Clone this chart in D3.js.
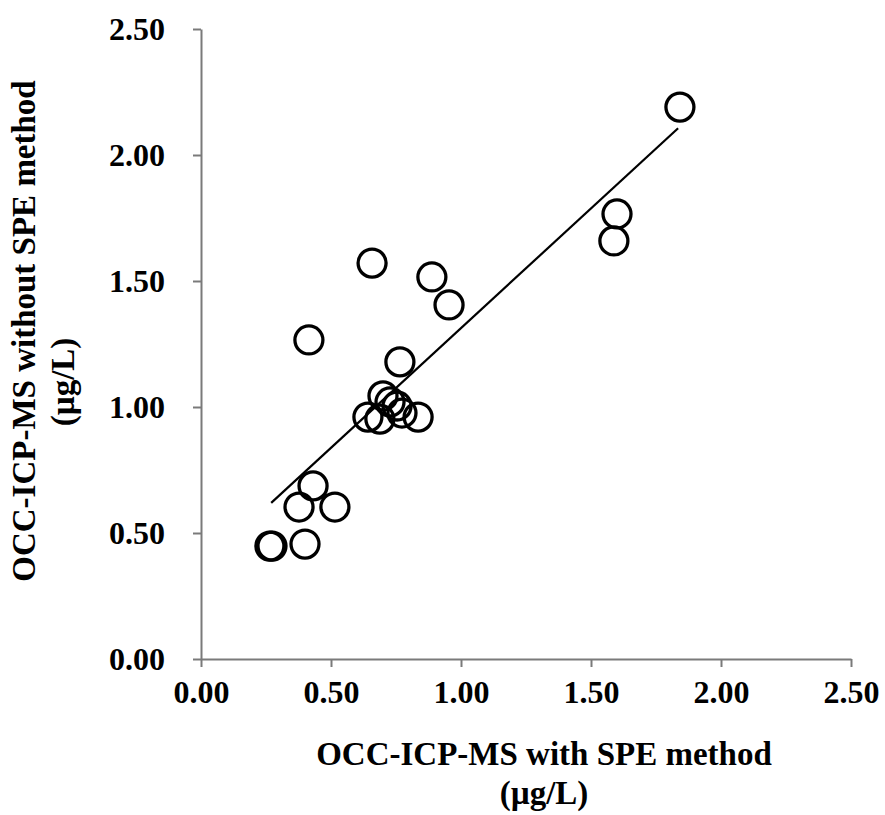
<!DOCTYPE html>
<html>
<head>
<meta charset="utf-8">
<script src="https://cdn.jsdelivr.net/npm/d3@7"></script>
<style>
  body { margin: 0; background: #fff; }
  svg text { font-family: "Liberation Serif", "Times New Roman", serif; font-weight: bold; fill: #000; }
</style>
</head>
<body>
<div id="chart"></div>
<script>
// with SPE (x) vs without SPE (y), µg/L
const withSPE = [1.842, 1.600, 1.588, 0.658, 0.888, 0.954, 0.415, 0.765,
  0.700, 0.727, 0.754, 0.642, 0.688, 0.773, 0.835,
  0.431, 0.377, 0.515, 0.265, 0.273, 0.400]
const withoutSPE = [2.190, 1.766, 1.659, 1.571, 1.516, 1.405, 1.266, 1.179,
  1.044, 1.020, 1.004, 0.960, 0.952, 0.976, 0.960,
  0.687, 0.603, 0.603, 0.448, 0.448, 0.456]
const tickValues = [0, 0.5, 1, 1.5, 2, 2.5]
// trend line
const trendSlope = 0.95
const trendIntercept = 0.363

const width = 885
const height = 815
const margin = { top: 29, right: 34, bottom: 156, left: 201 }

const svg = d3.select('#chart').append('svg')
  .attr('width', width)
  .attr('height', height)

const x = d3.scaleLinear().domain([0, 2.5]).range([margin.left, width - margin.right])
const y = d3.scaleLinear().domain([0, 2.5]).range([height - margin.bottom, margin.top])

const fmt = d3.format('.2f')

const xAxis = svg.append('g')
  .attr('transform', `translate(0,${y(0)})`)
  .call(d3.axisBottom(x).tickValues(tickValues).tickFormat(fmt).tickSize(8).tickSizeOuter(0).tickPadding(13))
const yAxis = svg.append('g')
  .attr('transform', `translate(${x(0)},0)`)
  .call(d3.axisLeft(y).tickValues(tickValues).tickFormat(fmt).tickSize(8).tickSizeOuter(0).tickPadding(28))

for (const g of [xAxis, yAxis]) {
  g.selectAll('path, line').attr('stroke', '#7a7a7a').attr('stroke-width', 2)
  g.selectAll('text').style('font-size', '32px').attr('fill', '#000')
}

const pts = withSPE.map((v, i) => [v, withoutSPE[i]])
const xMin = d3.min(withSPE)
const xMax = d3.max(withSPE)

svg.append('line')
  .attr('x1', x(xMin + 0.005)).attr('y1', y(trendSlope * (xMin + 0.005) + trendIntercept))
  .attr('x2', x(xMax - 0.007)).attr('y2', y(trendSlope * (xMax - 0.007) + trendIntercept))
  .attr('stroke', '#000').attr('stroke-width', 2.2)

svg.append('g').selectAll('circle').data(pts).join('circle')
  .attr('cx', d => x(d[0]))
  .attr('cy', d => y(d[1]))
  .attr('r', 14)
  .attr('fill', 'none')
  .attr('stroke', '#000')
  .attr('stroke-width', 3.3)

// axis titles
const xt = svg.append('text').attr('text-anchor', 'middle').style('font-size', '33px')
xt.append('tspan').attr('x', 544).attr('y', 765).text('OCC-ICP-MS with SPE method')
xt.append('tspan').attr('x', 544).attr('y', 804).text('(µg/L)')

const yt = svg.append('g').attr('transform', 'translate(0,331) rotate(-90)')
yt.append('text').attr('text-anchor', 'middle').attr('x', 0).attr('y', 35)
  .style('font-size', '33px').text('OCC-ICP-MS without SPE method')
yt.append('text').attr('text-anchor', 'middle').attr('x', -51).attr('y', 74)
  .style('font-size', '33px').text('(µg/L)')
</script>
</body>
</html>
